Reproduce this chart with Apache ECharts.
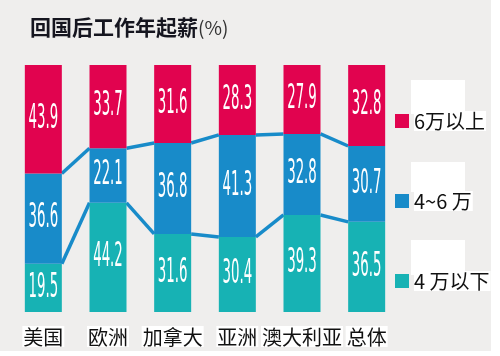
<!DOCTYPE html>
<html>
<head>
<meta charset="utf-8">
<script src="https://cdn.jsdelivr.net/npm/echarts@6/dist/echarts.min.js"></script>
<style>html,body{margin:0;padding:0;background:#fff}#c{width:500px;height:356px}</style>
</head>
<body>
<div id="c"></div>
<script>
var categories = ['美国', '欧洲', '加拿大', '亚洲', '澳大利亚', '总体'];
var under4 = [19.5, 44.2, 31.6, 30.4, 39.3, 36.5];
var from4to6 = [36.6, 22.1, 36.8, 41.3, 32.8, 30.7];
var over6 = [43.9, 33.7, 31.6, 28.3, 27.9, 32.8];
var seriesNames = ['4 万以下', '4~6 万', '6万以上'];
var colors = ['#17b2b4', '#188bc9', '#e1034f'];

var BAR_W = 37;
var FONT_CN = '"Noto Sans CJK SC", "Noto Sans", sans-serif';

// stacked tops for connecting lines
var top1 = under4.map(function (v) { return v; });
var top2 = under4.map(function (v, i) { return v + from4to6[i]; });

function segData(tops) {
  var d = [];
  for (var i = 0; i < tops.length - 1; i++) d.push([i, tops[i], tops[i + 1]]);
  return d;
}
function labelData() {
  var d = [];
  for (var i = 0; i < categories.length; i++) {
    d.push([i, under4[i] / 2, under4[i]]);
    d.push([i, under4[i] + from4to6[i] / 2, from4to6[i]]);
    d.push([i, under4[i] + from4to6[i] + over6[i] / 2, over6[i]]);
  }
  return d;
}
function lineRender(params, api) {
  var p1 = api.coord([api.value(0), api.value(1)]);
  var p2 = api.coord([api.value(0) + 1, api.value(2)]);
  return {
    type: 'line',
    shape: { x1: p1[0] + BAR_W / 2, y1: p1[1], x2: p2[0] - BAR_W / 2, y2: p2[1] },
    style: { stroke: colors[1], lineWidth: 3.5, lineCap: 'butt' }
  };
}

var chart = echarts.init(document.getElementById('c'), null, { renderer: 'canvas' });
chart.setOption({
  backgroundColor: '#ffffff',
  animation: false,
  graphic: [
    { type: 'rect', left: 0, top: 0, z: -10, shape: { x: 0, y: 0, width: 491, height: 351 }, style: { fill: '#efeeed' } },
    { type: 'rect', z: -5, shape: { x: 411, y: 80, width: 54, height: 34 }, style: { fill: '#ffffff' } },
    { type: 'rect', z: -5, shape: { x: 411, y: 162, width: 54, height: 30 }, style: { fill: '#ffffff' } },
    { type: 'rect', z: -5, shape: { x: 411, y: 240, width: 54, height: 35 }, style: { fill: '#ffffff' } }
  ],
  title: {
    text: '回国后工作年起薪{a|(%)}',
    left: 25,
    top: 12,
    textStyle: {
      fontFamily: FONT_CN,
      fontSize: 21,
      fontWeight: 'bold',
      color: '#15151f',
      rich: { a: { fontFamily: FONT_CN, fontSize: 19, fontWeight: 'normal', color: '#333' } }
    }
  },
  legend: {
    data: ['6万以上', '4~6 万', '4 万以下'],
    orient: 'vertical',
    left: 390,
    top: 106,
    itemWidth: 14,
    itemHeight: 14,
    itemGap: 60,
    icon: 'rect',
    textStyle: {
      fontFamily: FONT_CN,
      fontSize: 20,
      color: '#111',
      backgroundColor: '#ffffff',
      lineHeight: 20,
      padding: [0, 1, 0, 0]
    }
  },
  grid: { left: 11, right: 101, top: 65, bottom: 44 },
  xAxis: {
    type: 'category',
    data: categories,
    axisLine: { show: false },
    axisTick: { show: false },
    axisLabel: {
      interval: 0,
      margin: 14,
      fontFamily: FONT_CN,
      fontSize: 20,
      color: '#111',
      backgroundColor: '#ffffff',
      padding: [1, 1, 0, 1]
    }
  },
  yAxis: { type: 'value', min: 0, max: 100, show: false, splitLine: { show: false } },
  series: [
    { type: 'custom', name: 'line1', z: 1, silent: true, renderItem: lineRender, data: segData(top1), encode: { x: 0, y: 1 } },
    { type: 'custom', name: 'line2', z: 1, silent: true, renderItem: lineRender, data: segData(top2), encode: { x: 0, y: 1 } },
    { type: 'bar', name: seriesNames[0], stack: 'all', barWidth: BAR_W, data: under4, itemStyle: { color: colors[0] }, z: 2 },
    { type: 'bar', name: seriesNames[1], stack: 'all', barWidth: BAR_W, data: from4to6, itemStyle: { color: colors[1] }, z: 2 },
    { type: 'bar', name: seriesNames[2], stack: 'all', barWidth: BAR_W, data: over6, itemStyle: { color: colors[2] }, z: 2 },
    {
      type: 'custom', name: 'labels', z: 5, silent: true,
      data: labelData(),
      encode: { x: 0, y: 1 },
      renderItem: function (params, api) {
        var p = api.coord([api.value(0), api.value(1)]);
        return {
          type: 'text',
          x: p[0],
          y: p[1],
          scaleX: 0.74,
          scaleY: 1.7,
          style: {
            text: api.value(2).toFixed(1),
            fill: '#ffffff',
            fontFamily: '"Liberation Sans Narrow", "DejaVu Sans Condensed", sans-serif',
            fontSize: 20,
            align: 'center',
            verticalAlign: 'middle'
          }
        };
      }
    }
  ]
});
</script>
</body>
</html>
